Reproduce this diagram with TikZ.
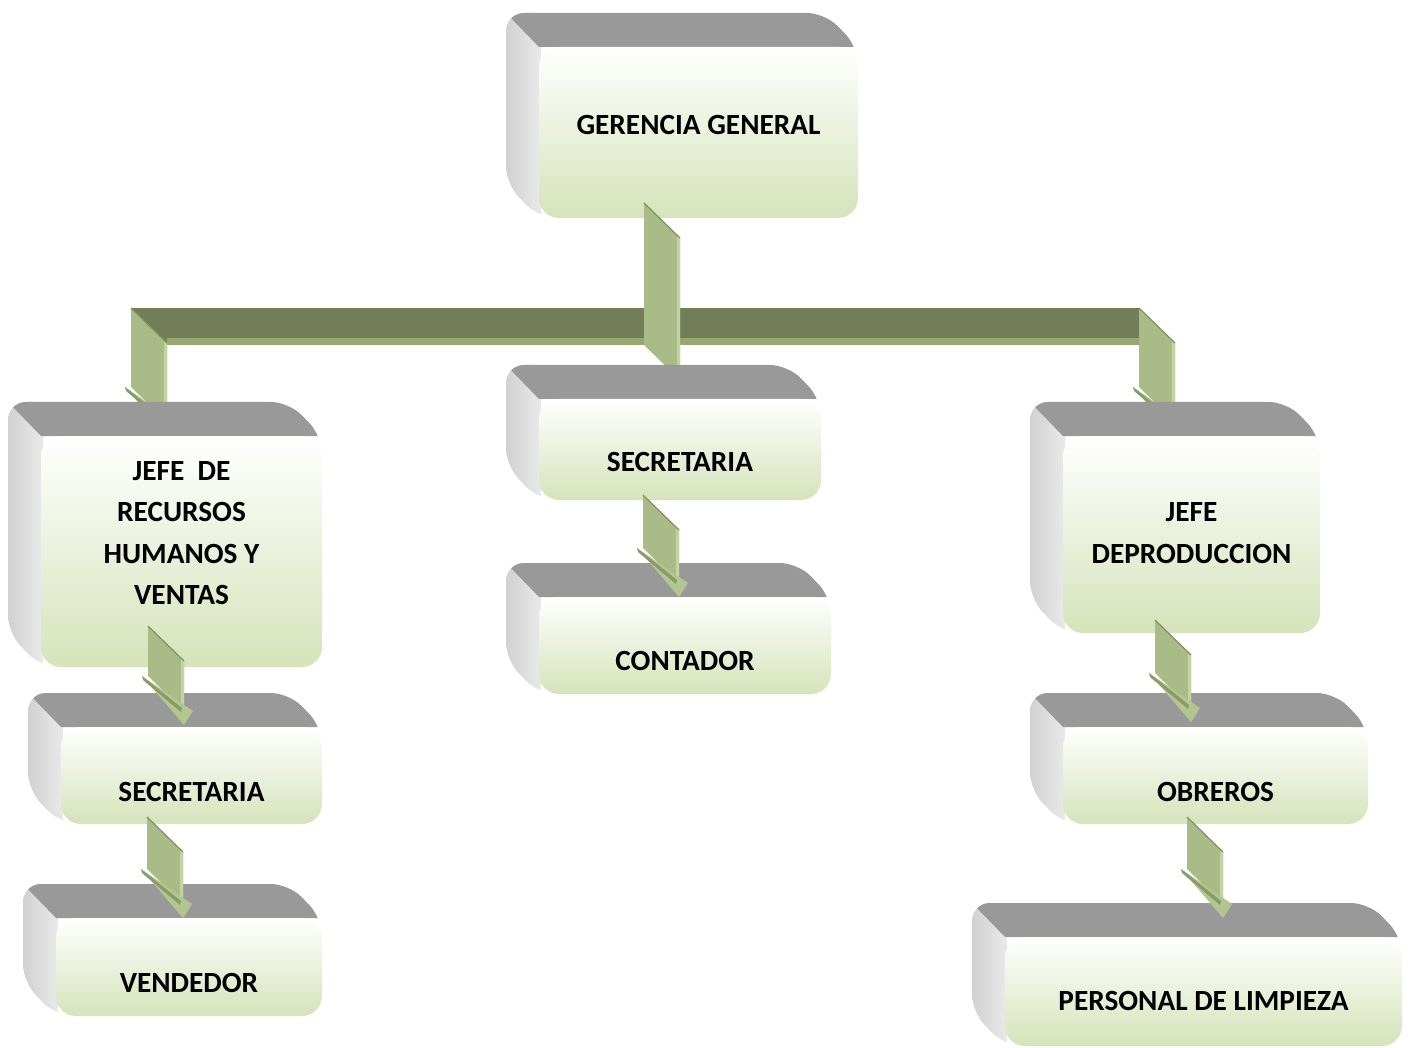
\documentclass[tikz,border=0pt]{standalone}
\usepackage{fontspec}
\setmainfont{Carlito}
\usetikzlibrary{calc}

\definecolor{topgray}{RGB}{153,153,153}
\definecolor{sidegray}{RGB}{224,224,224}
\definecolor{facegreen}{RGB}{214,227,186}
\definecolor{shaftgreen}{RGB}{170,187,135}
\definecolor{shaftedge}{RGB}{196,211,160}
\definecolor{shafttop}{RGB}{128,145,96}
\definecolor{headgreen}{RGB}{180,198,144}
\definecolor{headdark}{RGB}{137,156,104}
\definecolor{bardark}{RGB}{115,126,88}
\definecolor{barlight}{RGB}{150,168,112}

% slot for a box: name, front face x1,y1,x2,y2 (y downwards)
\newcommand{\placebox}[5]{%
  \node[slot,minimum width={(#4-#2)*1pt},minimum height={(#5-#3)*1pt}] (#1) at ({(#2+#4)/2},{(#3+#5)/2}) {};}

% 3d box on a slot, with its text
\newcommand{\drawbox}[3]{%
  \begin{scope}
    \path[clip,rounded corners=18pt] ($(#1.north west)+(-33,-34)$) -- ($(#1.north east)+(-33,-34)$)
      -- (#1.north east) -- (#1.south east) -- (#1.south west) -- ($(#1.south west)+(-33,-34)$) -- cycle;
    \shade[left color=sidegray!93!black,right color=sidegray!70!white] ($(#1.north west)+(-34,-35)$) rectangle ($(#1.south west)+(2,0)$);
    \fill[topgray] ($(#1.north west)+(-33,-34)$) -- ($(#1.north east)+(-33,-34)$)
      -- (#1.north east) -- (#1.north west) -- cycle;
  \end{scope}
  \shade[top color=white,bottom color=facegreen,rounded corners=20pt] (#1.north west) rectangle (#1.south east);
  \node[lbl] (#1-t) at ($(#1.center)+(0,#2)$) {#3};}

\newcommand{\arrowshaft}[2]{%
  \fill[shaftgreen] (#1) -- ($(#1)+(36,35)$) -- ($(#2)+(0,-14)$) -- ($(#2)+(-36,-49)$) -- cycle;
  \fill[shaftedge] ($(#1)+(33,32)$) -- ($(#1)+(36,35)$) -- ($(#2)+(0,-14)$) -- ($(#2)+(-3,-17)$) -- cycle;
  \draw[shafttop,line width=1.2pt] (#1) -- ($(#1)+(36,35)$);}

\newcommand{\arrowhead}[1]{%
  \fill[headgreen] ($(#1)+(-42,-49)$) -- ($(#1)+(9,-14)$) -- (#1) -- cycle;
  \fill[headdark] ($(#1)+(-42,-49)$) -- ($(#1)+(-2,-17)$) -- ($(#1)+(-3,-13)$) -- ($(#1)+(-41,-45)$) -- cycle;}

\begin{document}
\begin{tikzpicture}[x=1pt,y=-1pt,
    slot/.style={rectangle,inner sep=0pt,outer sep=0pt},
    lbl/.style={font=\fontsize{29.3}{41.6}\selectfont\bfseries,align=center,inner sep=0pt}]
  \useasboundingbox (0,0) rectangle (1411,1048);

  \placebox{gg}{539}{47}{858}{218}
  \placebox{secc}{539}{399}{821}{500}
  \placebox{cont}{539}{597}{831}{694}
  \placebox{jrrhh}{41}{436}{322}{667}
  \placebox{secl}{61}{727}{322}{824}
  \placebox{vend}{56}{918}{322}{1016}
  \placebox{jprod}{1063}{436}{1320}{633}
  \placebox{obr}{1063}{727}{1368}{824}
  \placebox{pers}{1005}{937}{1402}{1046}

  \drawbox{gg}{-7.5}{GERENCIA GENERAL}

  % bar under the general manager
  \coordinate (barL) at (131,308);
  \coordinate (barR) at (1139,308);
  \fill[bardark] (barL) rectangle ($(barR)+(0,37)$);
  \fill[barlight] ($(barL)+(36,30)$) rectangle ($(barR)+(0,37)$);
  \coordinate (tipL) at ($(barL |- jrrhh.north)+(36,0)$);
  \coordinate (tipR) at ($(barR |- jprod.north)+(36,0)$);
  \arrowshaft{barL}{tipL}
  \arrowhead{tipL}
  \arrowshaft{barR}{tipR}
  \arrowhead{tipR}
  \coordinate (s-a1) at ($(gg.south)+(-54.5,-15)$);
  \coordinate (t-a1) at ($(s-a1 |- secc.north)+(36,-5)$);
  \arrowshaft{s-a1}{t-a1}

  \drawbox{secc}{12.5}{SECRETARIA}
  \drawbox{jrrhh}{-18.5}{JEFE~\ DE\\RECURSOS\\HUMANOS Y\\VENTAS}
  \drawbox{jprod}{-1.5}{JEFE\\DEPRODUCCION}
  \drawbox{cont}{15.5}{CONTADOR}
  \drawbox{secl}{16.5}{SECRETARIA}
  \drawbox{obr}{16.5}{OBREROS}

  \coordinate (s-b1) at ($(jrrhh.south)+(-33.5,-41)$);
  \coordinate (t-b1) at ($(s-b1 |- secl.north)+(36,-2)$);
  \arrowshaft{s-b1}{t-b1}
  \arrowhead{t-b1}
  \coordinate (s-c1) at ($(secc.south)+(-37,-5)$);
  \coordinate (t-c1) at ($(s-c1 |- cont.north)+(36,0)$);
  \arrowshaft{s-c1}{t-c1}
  \arrowhead{t-c1}
  \coordinate (s-d1) at ($(jprod.south)+(-36.5,-13)$);
  \coordinate (t-d1) at ($(s-d1 |- obr.north)+(36,-5)$);
  \arrowshaft{s-d1}{t-d1}
  \arrowhead{t-d1}

  \drawbox{vend}{16}{VENDEDOR}
  \drawbox{pers}{9.5}{PERSONAL DE LIMPIEZA}

  \coordinate (s-b2) at ($(secl.south)+(-44.5,-7)$);
  \coordinate (t-b2) at ($(s-b2 |- vend.north)+(36,0)$);
  \arrowshaft{s-b2}{t-b2}
  \arrowhead{t-b2}
  \coordinate (s-d2) at ($(obr.south)+(-28.5,-7)$);
  \coordinate (t-d2) at ($(s-d2 |- pers.north)+(36,-19)$);
  \arrowshaft{s-d2}{t-d2}
  \arrowhead{t-d2}
\end{tikzpicture}
\end{document}
